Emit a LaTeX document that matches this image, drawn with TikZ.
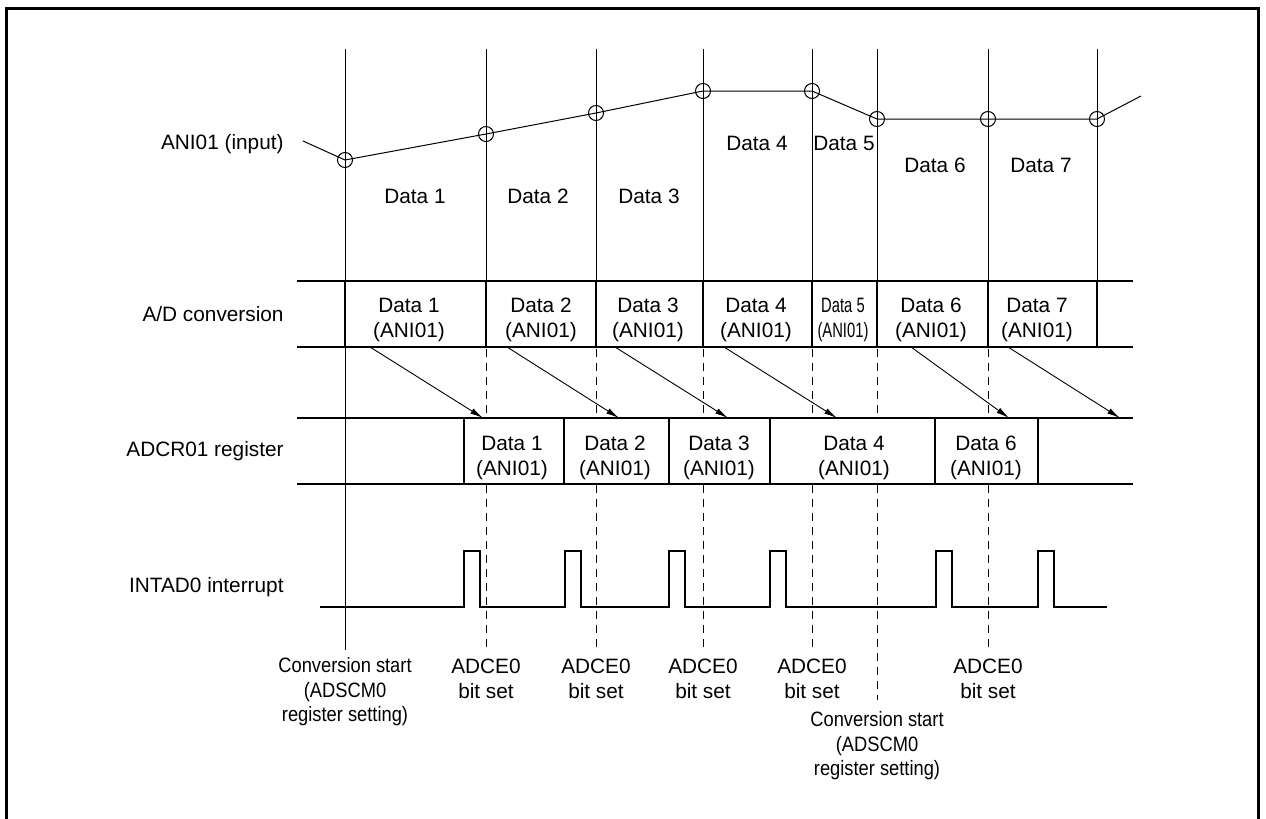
\documentclass[tikz,border=0pt]{standalone}
\usepackage{fontspec}
\setmainfont{Liberation Sans}
\newfontfamily\narrowfont{Liberation Sans}[FakeStretch=0.88]
\newfontfamily\squeezefont{Liberation Sans}[FakeStretch=0.71]
\usetikzlibrary{arrows.meta}
\begin{document}
\begin{tikzpicture}[x=0.5pt, y=-0.5pt,
  every node/.style={font=\fontsize{10.4}{12.6}\selectfont, inner sep=0pt},
  lbl/.style={anchor=east, align=right},
  cell/.style={align=center},
  note/.style={anchor=north, align=center, font=\fontsize{10.4}{12.4}\selectfont},
  thin/.style={line width=0.5pt},
  band/.style={line width=1.25pt},
  pulse/.style={line width=1.3pt},
  hint/.style={line width=0.5pt, dash pattern=on 4pt off 3pt},
  xfer/.style={-{Latex[length=6.5pt,width=3pt]}, line width=0.45pt},
  smp/.style={draw, circle, minimum size=7.5pt, line width=0.5pt}]
\useasboundingbox (0,0) rectangle (1266,819);
\draw[line width=1.5pt] (6,819) -- (6,8) -- (1258,8) -- (1258,819);

\node[lbl] (lin) at (284,144) {ANI01 (input)};
\node[lbl] (lad) at (284,314) {A/D conversion};
\node[lbl] (lreg) at (284,451) {ADCR01 register};
\node[lbl] (lint) at (284,587) {INTAD0 interrupt};

\foreach \x in {345,486,596,703,812,877,988,1097}
  \draw[thin] (\x,49) -- (\x,281);
\draw[thin] (345,347) -- (345,650);

\coordinate (in0) at (303,141);
\coordinate (in9) at (1141,96);
\node[smp] (s1) at (345,160) {};
\node[smp] (s2) at (486,134) {};
\node[smp] (s3) at (596,113) {};
\node[smp] (s4) at (703,91) {};
\node[smp] (s5) at (812,91) {};
\node[smp] (s6) at (877,119) {};
\node[smp] (s7) at (988,119) {};
\node[smp] (s8) at (1097,119) {};
\draw[thin] (in0) -- (s1.center) -- (s2.center) -- (s3.center) -- (s4.center) -- (s5.center)
  -- (s6.center) -- (s7.center) -- (s8.center) -- (in9);

\node (d1) at (415,196) {Data 1};
\node (d2) at (538,196) {Data 2};
\node (d3) at (649,196) {Data 3};
\node (d4) at (757,143) {Data 4};
\node (d5) at (844,143) {Data 5};
\node (d6) at (935,165) {Data 6};
\node (d7) at (1041,165) {Data 7};

\draw[band] (297,281) -- (1133,281);
\draw[band] (297,347) -- (1133,347);
\foreach \x in {345,486,596,703,812,877,988,1097}
  \draw[band] (\x,281) -- (\x,347);
\node[cell] (c1) at (409,320) {Data 1\\(ANI01)};
\node[cell] (c2) at (541,320) {Data 2\\(ANI01)};
\node[cell] (c3) at (648,320) {Data 3\\(ANI01)};
\node[cell] (c4) at (756,320) {Data 4\\(ANI01)};
\node[cell, font=\squeezefont\fontsize{10.4}{12.6}\selectfont] (c5) at (843,320) {Data 5\\(ANI01)};
\node[cell] (c6) at (931,320) {Data 6\\(ANI01)};
\node[cell] (c7) at (1037,320) {Data 7\\(ANI01)};

\draw[band] (297,418) -- (1133,418);
\draw[band] (297,484) -- (1133,484);
\foreach \x in {464,564,669,770,935,1038}
  \draw[band] (\x,418) -- (\x,484);
\draw[thin] (345,418) -- (345,484);
\node[cell] (r1) at (512,458) {Data 1\\(ANI01)};
\node[cell] (r2) at (615,458) {Data 2\\(ANI01)};
\node[cell] (r3) at (719,458) {Data 3\\(ANI01)};
\node[cell] (r4) at (854,458) {Data 4\\(ANI01)};
\node[cell] (r6) at (986,458) {Data 6\\(ANI01)};

\foreach \s/\e [count=\i] in {370/483,507/619,615/728,724/837,911/1009,1008/1120} {
  \coordinate (src\i) at (\s,347);
  \coordinate (dst\i) at (\e,418);
  \draw[xfer] (src\i) -- (dst\i);
}

\foreach \x/\b in {486/648,596/648,703/648,812/648,877/700,988/648} {
  \draw[hint] (\x,349) -- (\x,417);
  \draw[hint] (\x,485) -- (\x,\b);
}

\draw[pulse] (320,607) foreach \p in {464,565,669,770,936,1038} {
  -- (\p,607) -- (\p,551) -- (\p+16,551) -- (\p+16,607) } -- (1107,607);

\node[note, font=\narrowfont\fontsize{10.4}{12.3}\selectfont] (cs1) at (345,657) {Conversion start\\(ADSCM0\\register setting)};
\node[note] (b1) at (486,659) {ADCE0\\bit set};
\node[note] (b2) at (596,659) {ADCE0\\bit set};
\node[note] (b3) at (703,659) {ADCE0\\bit set};
\node[note] (b4) at (812,659) {ADCE0\\bit set};
\node[note, font=\narrowfont\fontsize{10.4}{12.3}\selectfont] (cs2) at (877,711) {Conversion start\\(ADSCM0\\register setting)};
\node[note] (b6) at (988,659) {ADCE0\\bit set};
\end{tikzpicture}
\end{document}
